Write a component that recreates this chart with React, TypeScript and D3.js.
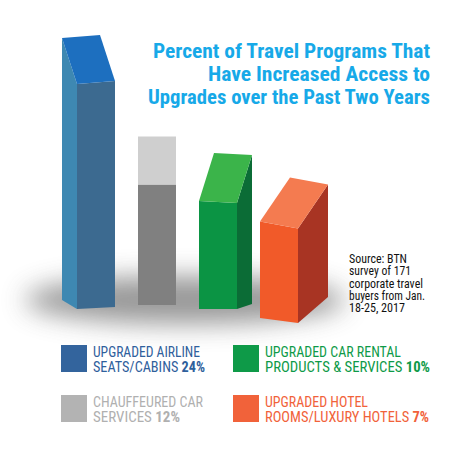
import * as d3 from 'd3';
import React, { useEffect, useRef } from 'react';

const categories = ['Airline seats/cabins', 'Chauffeured car services', 'Car rental products & services', 'Hotel rooms/luxury hotels'];
const values = [24, 12, 10, 7];
const legendLines = [
    ['UPGRADED AIRLINE', 'SEATS/CABINS '],
    ['CHAUFFEURED CAR', 'SERVICES '],
    ['UPGRADED CAR RENTAL', 'PRODUCTS & SERVICES '],
    ['UPGRADED HOTEL', 'ROOMS/LUXURY HOTELS '],
];
const titleLines = ['Percent of Travel Programs That', 'Have Increased Access to', 'Upgrades over the Past Two Years'];
const sourceLines = ['Source: BTN', 'survey of 171', 'corporate travel', 'buyers from Jan.', '18-25, 2017'];

// colours per bar: front, top, side, swatch, legend text
const palette = [
    { front: '#3c6a90', top: '#1d6fbf', side: '#3e88b2', swatch: '#33649d', legend: '#2f609c' },
    { front: '#808080', top: '#cfcfcf', side: '#808080', swatch: '#b3b3b3', legend: '#b0b0b0' },
    { front: '#0b9444', top: '#3bb44a', side: '#0b6c36', swatch: '#0e9a48', legend: '#0e9a48' },
    { front: '#f15a29', top: '#f47b50', side: '#a83423', swatch: '#f1623a', legend: '#f1623a' },
];
// 3d look of each box (layout only)
const boxes = [
    { dx: -15, tilt: -3, depth: 46, bottom: 309, sideBottom: 300 },
    { dx: 0, tilt: 0, depth: 48, bottom: 305, sideBottom: 305 },
    { dx: 15, tilt: 2, depth: 48, bottom: 309, sideBottom: 304 },
    { dx: 30, tilt: 7, depth: 44, bottom: 321, sideBottom: 297 },
];

const FONT = "'Liberation Sans Narrow', 'Roboto Condensed', Roboto, 'Liberation Sans', Arial, sans-serif";

const App = () => {
    const svgRef = useRef<SVGSVGElement>(null);

    useEffect(() => {
        const svg = d3.select(svgRef.current);
        svg.selectAll('*').remove();

        const width = 459;
        const height = 452;
        svg.attr('width', width).attr('height', height);

        svg.append('rect').attr('width', width).attr('height', height).attr('fill', '#fff');

        const defs = svg.append('defs');
        defs.append('filter').attr('id', 'blur')
            .attr('x', '-50%').attr('y', '-100%').attr('width', '200%').attr('height', '300%')
            .append('feGaussianBlur').attr('stdDeviation', 13);

        // soft floor shadow
        svg.append('ellipse')
            .attr('cx', 185).attr('cy', 300).attr('rx', 160).attr('ry', 24)
            .attr('fill', '#555').attr('opacity', 0.6)
            .attr('filter', 'url(#blur)');

        const x = d3.scaleBand<string>()
            .domain(categories)
            .range([77, 298])
            .paddingInner(0.377);

        const y = d3.scaleLinear().domain([0, 24]).range([235, 38]);

        const bars = svg.append('g');
        categories.forEach((cat, i) => {
            const b = boxes[i];
            const c = palette[i];
            const x0 = x(cat)!;
            const x1 = x0 + x.bandwidth();
            const yB = y(values[i]);
            const yF = yB + b.depth;
            const g = bars.append('g');
            const pts = (p: number[][]) => p.map(d => d.join(',')).join(' ');

            // front
            g.append('polygon')
                .attr('points', pts([[x0, yF], [x1, yF + b.tilt], [x1, b.bottom - (b.dx < 0 ? 2 : 0) + (b.dx > 20 ? 2 : 0)], [x0, b.bottom - (b.dx > 20 ? 3 : 0)]]))
                .attr('fill', c.front);
            // side
            if (b.dx > 0) {
                g.append('polygon')
                    .attr('points', pts([[x1, yF + b.tilt], [x1 + b.dx, yB + b.tilt], [x1 + b.dx, b.sideBottom], [x1, b.bottom + (b.dx > 20 ? 2 : 0)]]))
                    .attr('fill', c.side);
            } else if (b.dx < 0) {
                g.append('polygon')
                    .attr('points', pts([[x0, yF], [x0 + b.dx, yB], [x0 + b.dx, b.sideBottom], [x0, b.bottom]]))
                    .attr('fill', c.side);
            }
            // top
            g.append('polygon')
                .attr('points', pts([[x0, yF], [x1, yF + b.tilt], [x1 + b.dx, yB + b.tilt], [x0 + b.dx, yB]]))
                .attr('fill', c.top);
        });

        // title
        const titleX = [153, 208, 148];
        const titleW = [277, 222, 282];
        svg.append('g').selectAll('text')
            .data(titleLines)
            .join('text')
            .attr('x', (d, i) => titleX[i])
            .attr('y', (d, i) => 58 + i * 23)
            .attr('textLength', (d, i) => titleW[i])
            .attr('lengthAdjust', 'spacingAndGlyphs')
            .style('font-family', FONT)
            .style('font-size', '19.5px')
            .style('font-weight', 'bold')
            .attr('fill', '#17a9e8')
            .text(d => d);

        // source note
        const srcW = [58, 62, 74, 76, 56];
        svg.append('g').selectAll('text')
            .data(sourceLines)
            .join('text')
            .attr('x', 349)
            .attr('y', (d, i) => 263 + i * 12.3)
            .attr('textLength', (d, i) => srcW[i])
            .attr('lengthAdjust', 'spacingAndGlyphs')
            .style('font-family', FONT)
            .style('font-size', '12px')
            .attr('fill', '#111')
            .text(d => d);

        // legend
        const lgX = [61, 61, 233, 233];
        const lgY = [345, 395, 345, 395];
        const lgW = [[107, 112], [110, 87], [136, 165], [103, 164]];
        const legend = svg.append('g');
        categories.forEach((cat, i) => {
            const c = palette[i];
            legend.append('rect')
                .attr('x', lgX[i]).attr('y', lgY[i])
                .attr('width', 26).attr('height', 27)
                .attr('fill', c.swatch);
            legendLines[i].forEach((line, j) => {
                const t = legend.append('text')
                    .attr('x', lgX[i] + 32)
                    .attr('y', lgY[i] + 12 + j * 14.5)
                    .attr('textLength', lgW[i][j])
                    .attr('lengthAdjust', 'spacingAndGlyphs')
                    .style('font-family', FONT)
                    .style('font-size', '15.5px')
                    .attr('fill', c.legend);
                t.append('tspan').text(line);
                if (j === 1) {
                    t.append('tspan').style('font-weight', 'bold').text(`${values[i]}%`);
                }
            });
        });
    }, []);

    return (
        <svg ref={svgRef} style={{ position: 'absolute', left: 0, top: 0, display: 'block' }}></svg>
    );
};

export default App;
